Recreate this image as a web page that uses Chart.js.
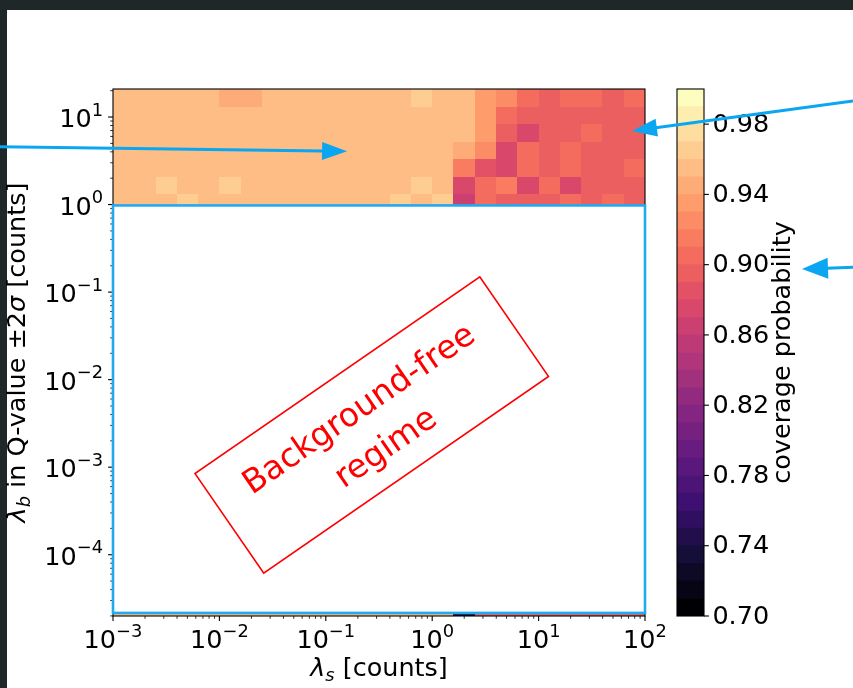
<!DOCTYPE html>
<html>
<head>
<meta charset="utf-8">
<title>Coverage probability</title>
<script src="https://cdn.jsdelivr.net/npm/chart.js@4.4.1/dist/chart.umd.min.js"></script>
<style>
  html, body { margin: 0; padding: 0; width: 853px; height: 688px; overflow: hidden; background: #1f2729; }
  #sheet { position: absolute; left: 7px; top: 10px; right: 0; bottom: 0; background: #ffffff; }
  canvas { position: absolute; left: 0; top: 0; }
</style>
</head>
<body>
<div id="sheet"></div>
<canvas id="cbar" width="853" height="688"></canvas>
<canvas id="main" width="853" height="688"></canvas>
<script>
// ---------------- data ----------------
// λs bin edges, as log10 exponents (0.2-decade bins)
const signalEdgeExp = [-3.0, -2.8, -2.6, -2.4, -2.2, -2.0, -1.8, -1.6, -1.4, -1.2, -1.0, -0.8, -0.6,
                       -0.4, -0.2, 0.0, 0.2, 0.4, 0.6, 0.8, 1.0, 1.2, 1.4, 1.6, 1.8, 2.0];
// λb bin edges for the rows above 1 count, as log10 exponents
const backgroundEdgeExp = [-0.08, 0.12, 0.32, 0.52, 0.72, 0.92, 1.12, 1.32];
// lowest λb bin, along the bottom of the axes
const lowestBackgroundEdgeExp = [-4.70, -4.50];

// coverage probability per λs bin, one array per λb bin
const coverageLowest = [0.955, 0.955, 0.955, 0.955, 0.955, 0.955, 0.955, 0.955, 0.955, 0.955, 0.955, 0.955, 0.955,
                        0.955, 0.955, 0.955, 0.735, 0.895, 0.895, 0.895, 0.895, 0.895, 0.895, 0.895, 0.895];
const coverageRow0 = [0.955, 0.955, 0.955, 0.965, 0.955, 0.955, 0.955, 0.955, 0.955, 0.955, 0.955, 0.955, 0.955,
                      0.965, 0.955, 0.965, 0.865, 0.905, 0.895, 0.895, 0.895, 0.905, 0.895, 0.905, 0.895];
const coverageRow1 = [0.955, 0.955, 0.965, 0.955, 0.955, 0.965, 0.955, 0.955, 0.955, 0.955, 0.955, 0.955, 0.955,
                      0.955, 0.965, 0.955, 0.875, 0.905, 0.915, 0.875, 0.905, 0.875, 0.895, 0.895, 0.895];
const coverageRow2 = [0.955, 0.955, 0.955, 0.955, 0.955, 0.955, 0.955, 0.955, 0.955, 0.955, 0.955, 0.955, 0.955,
                      0.955, 0.955, 0.955, 0.915, 0.885, 0.875, 0.905, 0.895, 0.905, 0.895, 0.895, 0.905];
const coverageRow3 = [0.955, 0.955, 0.955, 0.955, 0.955, 0.955, 0.955, 0.955, 0.955, 0.955, 0.955, 0.955, 0.955,
                      0.955, 0.955, 0.955, 0.945, 0.925, 0.875, 0.905, 0.895, 0.905, 0.895, 0.895, 0.895];
const coverageRow4 = [0.955, 0.955, 0.955, 0.955, 0.955, 0.955, 0.955, 0.955, 0.955, 0.955, 0.955, 0.955, 0.955,
                      0.955, 0.955, 0.955, 0.955, 0.935, 0.895, 0.875, 0.895, 0.895, 0.905, 0.895, 0.895];
const coverageRow5 = [0.955, 0.955, 0.955, 0.955, 0.955, 0.955, 0.955, 0.955, 0.955, 0.955, 0.955, 0.955, 0.955,
                      0.955, 0.955, 0.955, 0.955, 0.935, 0.905, 0.895, 0.895, 0.895, 0.895, 0.895, 0.895];
const coverageRow6 = [0.955, 0.955, 0.955, 0.955, 0.955, 0.945, 0.945, 0.955, 0.955, 0.955, 0.955, 0.955, 0.955,
                      0.955, 0.965, 0.955, 0.955, 0.935, 0.925, 0.905, 0.895, 0.905, 0.905, 0.895, 0.905];

// axis decades that carry a "10^n" label
const xTickExps = [-3, -2, -1, 0, 1, 2];
const yTickExps = [-4, -3, -2, -1, 0, 1];
// colour-bar levels (0.01 steps) and its labelled ticks
const colorbarLevels = [0.70, 0.71, 0.72, 0.73, 0.74, 0.75, 0.76, 0.77, 0.78, 0.79, 0.80, 0.81, 0.82, 0.83, 0.84,
                        0.85, 0.86, 0.87, 0.88, 0.89, 0.90, 0.91, 0.92, 0.93, 0.94, 0.95, 0.96, 0.97, 0.98, 0.99, 1.00];
const colorbarTicks = [0.70, 0.74, 0.78, 0.82, 0.86, 0.90, 0.94, 0.98];

// ---------------- styling helpers ----------------
const FONT = '"DejaVu Sans", "Liberation Sans", sans-serif';
const LABEL_PX = 25.5;
const MAGMA = ['#000004', '#140e36', '#3b0f70', '#641a80', '#8c2981', '#b73779',
               '#de4968', '#f7705c', '#fe9f6d', '#fecf92', '#fcfdbf'];
const ARROW_BLUE = '#0aa6f2';
const BOX_BLUE = '#22aaf0';

function hexRgb(h) { return [1, 3, 5].map(i => parseInt(h.slice(i, i + 2), 16)); }
function magma(t) {
  const p = Math.min(Math.max(t, 0), 1) * (MAGMA.length - 1);
  const i = Math.min(Math.floor(p), MAGMA.length - 2), f = p - i;
  const a = hexRgb(MAGMA[i]), b = hexRgb(MAGMA[i + 1]);
  return 'rgb(' + a.map((c, k) => Math.round(c + (b[k] - c) * f)).join(',') + ')';
}
// discrete 30-level colour map over [0.70, 1.00]
const nLevels = colorbarLevels.length - 1;
function coverageColor(v) {
  const lo = colorbarLevels[0], hi = colorbarLevels[nLevels];
  let i = Math.floor((v - lo) / (hi - lo) * nLevels + 1e-9);
  i = Math.min(Math.max(i, 0), nLevels - 1);
  return magma(i / (nLevels - 1));
}

// draw a run of text pieces (base text, super/subscripts) on one baseline
function drawRuns(ctx, runs, x, y, align) {
  const widths = runs.map(r => { ctx.font = (r.italic ? 'italic ' : '') + r.size + 'px ' + FONT; return ctx.measureText(r.text).width; });
  const total = widths.reduce((s, w) => s + w, 0);
  let cx = align === 'center' ? x - total / 2 : align === 'right' ? x - total : x;
  ctx.textAlign = 'left';
  ctx.textBaseline = 'alphabetic';
  runs.forEach((r, k) => {
    ctx.font = (r.italic ? 'italic ' : '') + r.size + 'px ' + FONT;
    ctx.fillText(r.text, cx, y + (r.dy || 0));
    cx += widths[k];
  });
}
function powerLabel(e) {
  const exp = e < 0 ? '\u2212' + Math.abs(e) : String(e);
  return [{ text: '10', size: LABEL_PX }, { text: exp, size: LABEL_PX * 0.7, dy: -LABEL_PX * 0.45 }];
}
function drawArrow(ctx, x0, y0, x1, y1, headLen, headHalf, width, color) {
  const ang = Math.atan2(y1 - y0, x1 - x0), c = Math.cos(ang), s = Math.sin(ang);
  const bx = x1 - c * headLen, by = y1 - s * headLen;
  ctx.save();
  ctx.strokeStyle = color; ctx.fillStyle = color; ctx.lineWidth = width; ctx.lineCap = 'butt';
  ctx.beginPath(); ctx.moveTo(x0, y0); ctx.lineTo(bx + c, by + s); ctx.stroke();
  ctx.beginPath();
  ctx.moveTo(x1, y1);
  ctx.lineTo(bx - s * headHalf, by + c * headHalf);
  ctx.lineTo(bx + s * headHalf, by - c * headHalf);
  ctx.closePath(); ctx.fill();
  ctx.restore();
}

// ---------------- heatmap cells ----------------
const heatRows = [
  [lowestBackgroundEdgeExp[0], lowestBackgroundEdgeExp[1], coverageLowest],
  [backgroundEdgeExp[0], backgroundEdgeExp[1], coverageRow0],
  [backgroundEdgeExp[1], backgroundEdgeExp[2], coverageRow1],
  [backgroundEdgeExp[2], backgroundEdgeExp[3], coverageRow2],
  [backgroundEdgeExp[3], backgroundEdgeExp[4], coverageRow3],
  [backgroundEdgeExp[4], backgroundEdgeExp[5], coverageRow4],
  [backgroundEdgeExp[5], backgroundEdgeExp[6], coverageRow5],
  [backgroundEdgeExp[6], backgroundEdgeExp[7], coverageRow6]
];
const cells = [];
heatRows.forEach(([lo, hi, values]) => values.forEach((v, j) => cells.push({
  x: Math.pow(10, (signalEdgeExp[j] + signalEdgeExp[j + 1]) / 2),
  y: Math.pow(10, (lo + hi) / 2),
  x0: Math.pow(10, signalEdgeExp[j]), x1: Math.pow(10, signalEdgeExp[j + 1]),
  y0: Math.pow(10, lo), y1: Math.pow(10, hi), v
})));

const MAJOR_LEN = 4.9, MINOR_LEN = 2.8;

// ---------------- colour bar ----------------
const colorbarPlugin = {
  id: 'colorbarFrame',
  afterDraw(chart) {
    const ctx = chart.ctx, a = chart.chartArea, ys = chart.scales.y;
    ctx.save();
    ctx.strokeStyle = '#000'; ctx.lineWidth = 1.1;
    ctx.strokeRect(a.left, a.top, a.right - a.left, a.bottom - a.top);
    ctx.fillStyle = '#000';
    colorbarTicks.forEach(v => {
      const y = ys.getPixelForValue(v);
      ctx.beginPath(); ctx.moveTo(a.right, y); ctx.lineTo(a.right + MAJOR_LEN, y); ctx.stroke();
      ctx.font = LABEL_PX + 'px ' + FONT; ctx.textAlign = 'left'; ctx.textBaseline = 'middle';
      ctx.fillText(v.toFixed(2), a.right + MAJOR_LEN + 3.5, y + 1);
    });
    ctx.translate(a.right + 86, (a.top + a.bottom) / 2);
    ctx.rotate(-Math.PI / 2);
    ctx.font = LABEL_PX + 'px ' + FONT; ctx.textAlign = 'center'; ctx.textBaseline = 'alphabetic';
    ctx.fillText('coverage probability', 0, 0);
    ctx.restore();
  }
};

const colorbarChart = new Chart(document.getElementById('cbar'), {
  type: 'bar',
  data: {
    labels: ['coverage'],
    datasets: colorbarLevels.slice(0, -1).map((lo, i) => ({
      data: [[lo, colorbarLevels[i + 1]]],
      backgroundColor: coverageColor(lo + 0.005),
      borderWidth: 0, grouped: false, barPercentage: 1, categoryPercentage: 1
    }))
  },
  options: {
    responsive: false, animation: false, devicePixelRatio: 1,
    layout: { padding: { left: 677, right: 149, top: 89, bottom: 72 } },
    plugins: { legend: { display: false }, tooltip: { enabled: false } },
    scales: {
      x: { display: false },
      y: { display: false, min: colorbarLevels[0], max: colorbarLevels[nLevels] }
    }
  },
  plugins: [colorbarPlugin]
});

// ---------------- main panel ----------------
const figurePlugin = {
  id: 'coverageFigure',
  afterDraw(chart) {
    const ctx = chart.ctx, a = chart.chartArea, xs = chart.scales.x, ys = chart.scales.y;
    const px = v => xs.getPixelForValue(v), py = v => ys.getPixelForValue(v);

    // heatmap cells
    ctx.save();
    ctx.beginPath(); ctx.rect(a.left, a.top, a.right - a.left, a.bottom - a.top); ctx.clip();
    chart.data.datasets[0].data.forEach(c => {
      const x0 = Math.round(px(c.x0)), x1 = Math.round(px(c.x1));
      const yb = Math.round(py(c.y0)), yt = Math.round(py(c.y1));
      ctx.fillStyle = coverageColor(c.v);
      ctx.fillRect(x0, yt, x1 - x0, yb - yt);
    });
    ctx.restore();

    // axes frame, ticks and labels
    ctx.save();
    ctx.strokeStyle = '#000'; ctx.fillStyle = '#000'; ctx.lineWidth = 1.1;
    ctx.strokeRect(a.left, a.top, a.right - a.left, a.bottom - a.top);
    const xMinExp = Math.log10(xs.min), xMaxExp = Math.log10(xs.max);
    const yMinExp = Math.log10(ys.min), yMaxExp = Math.log10(ys.max);
    for (let e = Math.floor(xMinExp); e <= Math.ceil(xMaxExp); e++) {
      for (let m = 1; m < 10; m++) {
        const v = m * Math.pow(10, e), lv = Math.log10(v);
        if (lv < xMinExp - 1e-9 || lv > xMaxExp + 1e-9) continue;
        const x = px(v);
        ctx.lineWidth = m === 1 ? 1.1 : 0.8;
        ctx.beginPath(); ctx.moveTo(x, a.bottom); ctx.lineTo(x, a.bottom + (m === 1 ? MAJOR_LEN : MINOR_LEN)); ctx.stroke();
      }
    }
    for (let e = Math.floor(yMinExp); e <= Math.ceil(yMaxExp); e++) {
      for (let m = 1; m < 10; m++) {
        const v = m * Math.pow(10, e), lv = Math.log10(v);
        if (lv < yMinExp - 1e-9 || lv > yMaxExp + 1e-9) continue;
        const y = py(v);
        ctx.lineWidth = m === 1 ? 1.1 : 0.8;
        ctx.beginPath(); ctx.moveTo(a.left, y); ctx.lineTo(a.left - (m === 1 ? MAJOR_LEN : MINOR_LEN), y); ctx.stroke();
      }
    }
    xTickExps.forEach(e => drawRuns(ctx, powerLabel(e), px(Math.pow(10, e)), a.bottom + 32, 'center'));
    yTickExps.forEach(e => drawRuns(ctx, powerLabel(e), a.left - MAJOR_LEN - 5, py(Math.pow(10, e)) + 10, 'right'));

    // axis titles
    drawRuns(ctx, [
      { text: '\u03bb', size: LABEL_PX, italic: true },
      { text: 's', size: LABEL_PX * 0.7, italic: true, dy: LABEL_PX * 0.2 },
      { text: ' [counts]', size: LABEL_PX }
    ], (a.left + a.right) / 2, a.bottom + 60, 'center');
    ctx.translate(a.left - 88, (a.top + a.bottom) / 2);
    ctx.rotate(-Math.PI / 2);
    drawRuns(ctx, [
      { text: '\u03bb', size: LABEL_PX, italic: true },
      { text: 'b', size: LABEL_PX * 0.7, italic: true, dy: LABEL_PX * 0.2 },
      { text: ' in Q-value ', size: LABEL_PX },
      { text: '\u00b12', size: LABEL_PX },
      { text: '\u03c3', size: LABEL_PX, italic: true },
      { text: ' [counts]', size: LABEL_PX }
    ], 0, 0, 'center');
    ctx.restore();

    // background-free region: white panel with blue outline
    ctx.save();
    const bx0 = px(xs.min), bx1 = px(xs.max);
    const by0 = py(Math.pow(10, -0.01)), by1 = py(Math.pow(10, -4.665));
    ctx.fillStyle = '#ffffff';
    ctx.fillRect(bx0, by0, bx1 - bx0, by1 - by0);
    ctx.strokeStyle = BOX_BLUE; ctx.lineWidth = 2.6;
    ctx.strokeRect(bx0, by0, bx1 - bx0, by1 - by0);

    // rotated red label
    const cx = px(Math.pow(10, -0.568)), cy = py(Math.pow(10, -2.518));
    ctx.translate(cx, cy);
    ctx.rotate(-34.6 * Math.PI / 180);
    ctx.strokeStyle = '#ff0000'; ctx.lineWidth = 1.6;
    ctx.strokeRect(-173, -60.5, 346, 121);
    ctx.fillStyle = '#ff0000';
    ctx.font = '33px ' + FONT; ctx.textAlign = 'center'; ctx.textBaseline = 'middle';
    ctx.fillText('Background-free', -1.5, -19);
    ctx.fillText('regime', -1.5, 28);
    ctx.restore();

    // pointer arrows
    drawArrow(ctx, px(Math.pow(10, -4.062)), py(Math.pow(10, 0.660)),
              px(Math.pow(10, -0.80)), py(Math.pow(10, 0.608)), 25, 9, 3, ARROW_BLUE);
    drawArrow(ctx, px(Math.pow(10, 3.955)), py(Math.pow(10, 1.183)),
              px(Math.pow(10, 1.878)), py(Math.pow(10, 0.841)), 25, 9, 3, ARROW_BLUE);
    const cb = colorbarChart.chartArea, cys = colorbarChart.scales.y;
    drawArrow(ctx, chart.width, cys.getPixelForValue(0.8985), cb.right + 98, cys.getPixelForValue(0.8975), 26, 10.5, 3, ARROW_BLUE);
  }
};

new Chart(document.getElementById('main'), {
  type: 'scatter',
  data: { datasets: [{ label: 'coverage probability', data: cells, pointRadius: 0, pointHoverRadius: 0 }] },
  options: {
    responsive: false, animation: false, devicePixelRatio: 1,
    layout: { padding: { left: 113, top: 89, right: 208, bottom: 72 } },
    plugins: { legend: { display: false }, tooltip: { enabled: false } },
    scales: {
      x: { type: 'logarithmic', display: false, min: Math.pow(10, signalEdgeExp[0]), max: Math.pow(10, signalEdgeExp[signalEdgeExp.length - 1]) },
      y: { type: 'logarithmic', display: false, min: Math.pow(10, lowestBackgroundEdgeExp[0]), max: Math.pow(10, backgroundEdgeExp[backgroundEdgeExp.length - 1]) }
    }
  },
  plugins: [figurePlugin]
});
</script>
</body>
</html>
